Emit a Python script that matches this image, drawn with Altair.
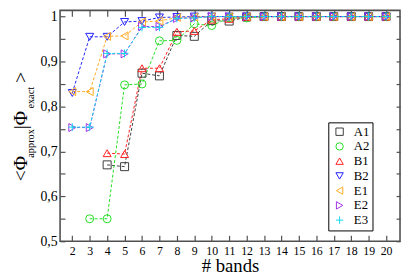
import altair as alt
import pandas as pd

# ---------------- data ----------------
series_names = ["A1", "A2", "B1", "B2", "E1", "E2", "E3"]
series_colors = ["#3c3c3c", "#22dd22", "#ff2020", "#2020ff", "#ffaa22", "#a030e8", "#11d8ee"]
series_shapes = ["square", "circle", "triangle-up", "triangle-down",
                 "triangle-left", "triangle-right", "M-1,0L1,0M0,-1L0,1"]

A1_n = [4, 5, 6, 7, 8, 9, 10, 11, 12, 13, 14, 15, 16, 17, 18, 19, 20]
A1_v = [0.670, 0.666, 0.874, 0.868, 0.958, 0.956, 0.991, 0.990, 0.999, 1.0, 1.0, 1.0, 1.0, 1.0, 1.0, 1.0, 1.0]

A2_n = [3, 4, 5, 6, 7, 8, 9, 10, 11, 12, 13, 14, 15, 16, 17, 18, 19, 20]
A2_v = [0.550, 0.550, 0.848, 0.850, 0.946, 0.947, 0.984, 0.980, 0.997, 0.997, 1.0, 1.0, 1.0, 1.0, 1.0, 1.0, 1.0, 1.0]

B1_n = [4, 5, 6, 7, 8, 9, 10, 11, 12, 13, 14, 15, 16, 17, 18, 19, 20]
B1_v = [0.696, 0.694, 0.885, 0.885, 0.966, 0.968, 0.993, 0.995, 0.999, 1.0, 1.0, 1.0, 1.0, 1.0, 1.0, 1.0, 1.0]

B2_n = [2, 3, 4, 5, 6, 7, 8, 9, 10, 11, 12, 13, 14, 15, 16, 17, 18, 19, 20]
B2_v = [0.830, 0.955, 0.955, 0.988, 0.990, 0.998, 0.999, 1.0, 1.0, 1.0, 1.0, 1.0, 1.0, 1.0, 1.0, 1.0, 1.0, 1.0, 1.0]

E1_n = [2, 3, 4, 5, 6, 7, 8, 9, 10, 11, 12, 13, 14, 15, 16, 17, 18, 19, 20]
E1_v = [0.833, 0.833, 0.956, 0.957, 0.988, 0.990, 0.998, 0.999, 1.0, 1.0, 1.0, 1.0, 1.0, 1.0, 1.0, 1.0, 1.0, 1.0, 1.0]

E2_n = [2, 3, 4, 5, 6, 7, 8, 9, 10, 11, 12, 13, 14, 15, 16, 17, 18, 19, 20]
E2_v = [0.753, 0.753, 0.917, 0.917, 0.978, 0.978, 0.996, 0.997, 1.0, 1.0, 1.0, 1.0, 1.0, 1.0, 1.0, 1.0, 1.0, 1.0, 1.0]

E3_n = [2, 3, 4, 5, 6, 7, 8, 9, 10, 11, 12, 13, 14, 15, 16, 17, 18, 19, 20]
E3_v = [0.754, 0.754, 0.918, 0.918, 0.976, 0.976, 0.996, 0.997, 1.0, 1.0, 1.0, 1.0, 1.0, 1.0, 1.0, 1.0, 1.0, 1.0, 1.0]

x_ticks = [2, 3, 4, 5, 6, 7, 8, 9, 10, 11, 12, 13, 14, 15, 16, 17, 18, 19, 20]
y_ticks = [0.5, 0.55, 0.6, 0.65, 0.7, 0.75, 0.8, 0.85, 0.9, 0.95, 1.0]

# y-axis title pieces
ytitle_big = ["<Φ", "|Φ", ">"]
ytitle_sub = ["approx", "exact"]

# ---------------- build table ----------------
all_n = [A1_n, A2_n, B1_n, B2_n, E1_n, E2_n, E3_n]
all_v = [A1_v, A2_v, B1_v, B2_v, E1_v, E2_v, E3_v]
rows = []
for name, ns, vs in zip(series_names, all_n, all_v):
    for n, v in zip(ns, vs):
        rows.append({"series": name, "n": n, "v": v})
df = pd.DataFrame(rows)

SERIF = "Liberation Serif, Times New Roman, serif"
xscale = alt.Scale(domain=[1.3, 20.8], nice=False, zero=False)
yscale = alt.Scale(domain=[0.5, 1.0138], nice=False, zero=False)
cscale = alt.Scale(domain=series_names, range=series_colors)
sscale = alt.Scale(domain=series_names, range=series_shapes)

legend = alt.Legend(
    title=None, orient="none", legendX=273, legendY=114,
    strokeColor="black", fillColor="white", padding=3, cornerRadius=0,
    labelFont=SERIF, labelFontSize=13, labelColor="black", labelOffset=8,
    symbolSize=56, symbolStrokeWidth=1, symbolFillColor="transparent",
    rowPadding=1, symbolOffset=2,
)

lines = alt.Chart(df).mark_line(strokeDash=[3, 2], strokeWidth=1).encode(
    x=alt.X("n:Q", scale=xscale, axis=alt.Axis(
        orient="bottom", values=x_ticks, format="d", offset=-6, tickSize=6,
        domain=False, labelPadding=4, labelOverlap=False, labelFlush=False,
        labelFontSize=12,
        title="# bands", titleFont=SERIF, titleFontSize=19,
        titleFontWeight="normal", titlePadding=1, titleColor="black", grid=False)),
    y=alt.Y("v:Q", scale=yscale, axis=alt.Axis(
        orient="left", values=y_ticks, offset=-5, tickSize=5, domain=False,
        labelFontSize=14,
        labelPadding=3, labelOverlap=False, labelFlush=False, title=None, grid=False,
        labelExpr="(round(datum.value*100) % 10 == 0) ? replace(format(datum.value, '.1~f'), '.', ',') : ''")),
    color=alt.Color("series:N", scale=cscale, legend=legend),
    detail="series:N",
)

points = alt.Chart(df).mark_point(filled=False, size=66, strokeWidth=1, opacity=1).encode(
    x=alt.X("n:Q", scale=xscale, axis=alt.Axis(
        orient="top", values=x_ticks, offset=-6, tickSize=6, domain=False,
        labels=False, title=None, grid=False)),
    y=alt.Y("v:Q", scale=yscale, axis=alt.Axis(
        orient="right", values=y_ticks, offset=-4, tickSize=4, domain=False,
        labels=False, title=None, grid=False)),
    color=alt.Color("series:N", scale=cscale, legend=legend),
    shape=alt.Shape("series:N", scale=sscale, legend=legend),
)

def title_piece(txt, size, xpos, ypos):
    return alt.Chart(pd.DataFrame({"t": [txt]})).mark_text(
        angle=270, align="left", baseline="alphabetic", font=SERIF,
        fontSize=size, color="black").encode(
        text="t:N", x=alt.value(xpos), y=alt.value(ypos))

t1 = title_piece(ytitle_big[0], 20, -34, 174)
t2 = title_piece(ytitle_sub[0], 10.5, -26.5, 150)
t3 = title_piece(ytitle_big[1], 20, -34, 121)
t4 = title_piece(ytitle_sub[1], 10.5, -26.5, 100)
t5 = title_piece(ytitle_big[2], 20, -34, 74)

chart = alt.layer(lines, points, t1, t2, t3, t4, t5).resolve_axis(
    x="independent", y="independent"
).properties(
    width=346, height=235,
    autosize=alt.AutoSizeParams(type="none"),
    padding={"left": 53, "top": 0, "right": 1, "bottom": 35},
).configure_view(
    stroke="#505050", strokeWidth=1.6
).configure_axis(
    tickColor="#505050", tickWidth=1.2, labelFont=SERIF,
    labelColor="black"
)

chart.save("out.html", embed_options={"renderer": "svg", "actions": False})
